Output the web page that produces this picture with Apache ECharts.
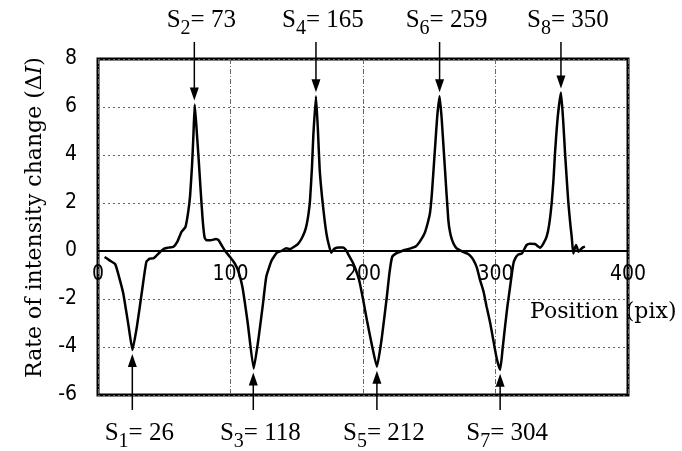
<!DOCTYPE html>
<html>
<head>
<meta charset="utf-8">
<script src="https://cdn.jsdelivr.net/npm/echarts@6/dist/echarts.min.js"></script>
<style>html,body{margin:0;padding:0;background:#fff;}#c{width:682px;height:451px;}</style>
</head>
<body>
<div id="c"></div>
<script>
// ---- data ----
const positions = [5, 9, 13, 15, 19, 23, 26, 29.5, 33, 36.5, 39, 42, 47, 50, 53, 57, 60, 63, 66, 68, 69.5, 71, 72, 73, 74.5, 76, 77.5, 79, 80.5, 82, 85, 89, 91, 93.5, 96, 99.5,
  103, 106, 109, 113, 117.5, 121, 124.5, 127, 131, 135, 139, 142, 145, 148, 151, 153.5, 156, 157.5, 159, 160, 161.5, 162.5, 164.5, 166, 167.3, 169, 171, 172.5, 174, 176, 178.5, 182, 185, 187, 189, 192, 194, 197,
  200, 203, 207, 210.5, 214, 218, 220, 222, 225, 228, 232, 236, 240, 243, 246.5, 249, 250.6, 252, 254, 256, 257.8, 259.4, 261.9, 264.4, 266, 268.2, 270.5, 273, 276, 278.5, 281, 283.3, 286, 288.3, 291, 293.3, 296, 298.3,
  301, 303.5, 305.5, 307.2, 309, 311, 313.4, 315, 317.2, 320, 321.5, 323.5, 326, 329.8, 332, 333.6, 336, 338.6, 340.5, 342.4, 343.8, 344.9, 347, 349.4, 351, 352.5, 354, 355, 356.5, 357.5, 358.7, 359.8, 360.8, 361.8, 362.5, 364, 366, 367.5];
const intensityChange = [-0.25, -0.4, -0.55, -0.9, -1.75, -3.1, -4.12, -3.1, -1.75, -0.45, -0.32, -0.3, -0.03, 0.1, 0.14, 0.18, 0.4, 0.8, 1.0, 1.6, 2.3, 3.6, 4.8, 6.1, 5.0, 3.8, 2.5, 1.3, 0.55, 0.45, 0.45, 0.5, 0.45, 0.22, 0, -0.24,
  -0.5, -0.85, -1.5, -3.0, -4.9, -3.7, -2.2, -1.07, -0.4, -0.07, 0.02, 0.11, 0.08, 0.18, 0.3, 0.5, 0.8, 1.1, 1.6, 2.1, 3.5, 4.8, 6.45, 5.0, 3.4, 2.3, 1.3, 0.7, 0.3, -0.07, 0.1, 0.15, 0.15, 0.05, -0.15, -0.45, -0.7, -1.2,
  -2.0, -2.9, -4.0, -4.82, -3.7, -1.9, -0.9, -0.25, -0.1, -0.03, 0.05, 0.11, 0.2, 0.4, 0.74, 1.2, 1.6, 2.4, 4.0, 5.6, 6.45, 5.5, 3.37, 1.29, 0.7, 0.32, 0.12, 0.04, -0.05, -0.1, -0.2, -0.37, -0.7, -1.2, -1.7, -2.32, -3.0, -3.7,
  -4.5, -4.95, -4.0, -3.15, -2.3, -1.5, -0.55, -0.3, -0.15, -0.1, 0.05, 0.25, 0.3, 0.29, 0.2, 0.14, 0.3, 0.6, 1.1, 2.0, 3.0, 4.07, 5.6, 6.6, 5.5, 4.07, 2.8, 2.0, 1.1, 0.6, -0.1, 0.1, 0.25, 0.1, -0.03, 0.05, 0.15, 0.18];

const markIndex = [1, 2, 3, 4, 5, 6, 7, 8];
const markValue = [26, 73, 118, 165, 212, 259, 304, 350];
const arrowX = [25.9, 72.7, 117.2, 164.5, 210.5, 257.8, 303.5, 349.4];
const arrowY = [-4.12, 6.1, -4.9, 6.45, -4.82, 6.45, -4.95, 6.6];

const xTicks = [0, 100, 200, 300, 400];
const yTicks = [-6, -4, -2, 0, 2, 4, 6, 8];

const xTitle = 'Position (pix)';
const yTitle = 'Rate of intensity change (Δ{i|I})';

// ---- chart ----
const X_MIN = xTicks[0], X_MAX = xTicks[xTicks.length - 1];
const Y_MIN = yTicks[0], Y_MAX = yTicks[yTicks.length - 1];
const GRID = { left: 98, top: 59, right: 54, bottom: 56 };
const plotH = 451 - GRID.top - GRID.bottom;
const zeroOffset = -(0 - Y_MIN) / (Y_MAX - Y_MIN) * plotH; // lift x axis to y = 0

const tickFont = "'Liberation Sans Narrow', 'DejaVu Sans Condensed', 'Liberation Sans', sans-serif";
const serif = "'DejaVu Serif', serif";
const MAIN_FONT = "25px 'Liberation Serif', serif";
const SUB_FONT = "20px 'Liberation Serif', serif";

const measureCtx = document.createElement('canvas').getContext('2d');
function textWidth(t, font) { measureCtx.font = font; return measureCtx.measureText(t).width; }

const lineData = positions.map((x, i) => [x, intensityChange[i]]);
const markData = markIndex.map((n, i) => [arrowX[i], arrowY[i], n, markValue[i]]);

function renderMark(params, api) {
  const x = api.value(0), v = api.value(1), n = api.value(2), lab = api.value(3);
  const p = api.coord([x, v]);
  const up = v > 0;
  const s = up ? -1 : 1;
  const tipY = p[1] + s * 4;
  const endY = up ? api.coord([x, Y_MAX])[1] - 17 : api.coord([x, Y_MIN])[1] + 15;
  const headL = 13, headW = 4.5;
  const midY = up ? api.coord([x, Y_MAX])[1] - 38.3 : api.coord([x, Y_MIN])[1] + 38.4;
  const t1 = 'S', t2 = String(n), t3 = '= ' + lab;
  const w1 = textWidth(t1, MAIN_FONT), w2 = textWidth(t2, SUB_FONT), w3 = textWidth(t3, MAIN_FONT);
  const x0 = p[0] + 7 - (w1 + w2 + w3) / 2;
  const txt = (t, font, xx, yy) => ({ type: 'text', x: xx, y: yy,
    style: { text: t, font: font, fill: '#000', align: 'left', verticalAlign: 'middle' } });
  return {
    type: 'group',
    children: [
      { type: 'line', shape: { x1: p[0], y1: endY, x2: p[0], y2: tipY + s * headL * 0.7 },
        style: { stroke: '#000', lineWidth: 1.5 } },
      { type: 'polygon', shape: { points: [[p[0], tipY], [p[0] - headW, tipY + s * headL], [p[0] + headW, tipY + s * headL]] },
        style: { fill: '#000' } },
      txt(t1, MAIN_FONT, x0, midY),
      txt(t2, SUB_FONT, x0 + w1, midY + 8.5),
      txt(t3, MAIN_FONT, x0 + w1 + w2, midY)
    ]
  };
}

const chart = echarts.init(document.getElementById('c'), null, { renderer: 'canvas' });
chart.setOption({
  animation: false,
  backgroundColor: '#fff',
  grid: Object.assign({ show: true, borderColor: '#000', borderWidth: 3, backgroundColor: 'transparent' }, GRID),
  xAxis: {
    type: 'value', min: X_MIN, max: X_MAX, interval: 100,
    position: 'bottom', offset: zeroOffset,
    axisLine: { onZero: false, lineStyle: { color: '#000', width: 2 } },
    axisTick: { show: false },
    axisLabel: { color: '#000', fontFamily: tickFont, fontSize: 21, margin: 13 },
    splitLine: { show: true, lineStyle: { color: '#666', width: 1, type: [5, 2, 1, 2] } }
  },
  yAxis: {
    type: 'value', min: Y_MIN, max: Y_MAX, interval: 2,
    axisLine: { show: false },
    axisTick: { show: false },
    axisLabel: { color: '#000', fontFamily: tickFont, fontSize: 21, margin: 21,
      formatter: v => (v < 0 ? '-' + (-v) : String(v)) },
    splitLine: { show: true, lineStyle: { color: '#666', width: 1, type: [2, 3] } }
  },
  graphic: [
    { type: 'text', x: 35, y: 217.5, rotation: Math.PI / 2,
      style: { text: yTitle, align: 'center', verticalAlign: 'middle', fill: '#000',
        font: "22px 'DejaVu Serif', serif",
        rich: { i: { fontStyle: 'italic', fontSize: 22, fontFamily: serif, fill: '#000' } } } },
    { type: 'text', x: 530, y: 312.5,
      style: { text: xTitle, align: 'left', verticalAlign: 'middle', fill: '#000', font: "22px 'DejaVu Serif', serif" } }
  ],
  series: [
    { type: 'line', data: lineData, showSymbol: false, smooth: 0.15,
      lineStyle: { color: '#000', width: 2.5 }, z: 3 },
    { type: 'custom', data: markData, renderItem: renderMark, encode: { x: 0, y: 1 }, clip: false, z: 4 }
  ]
});
</script>
</body>
</html>
